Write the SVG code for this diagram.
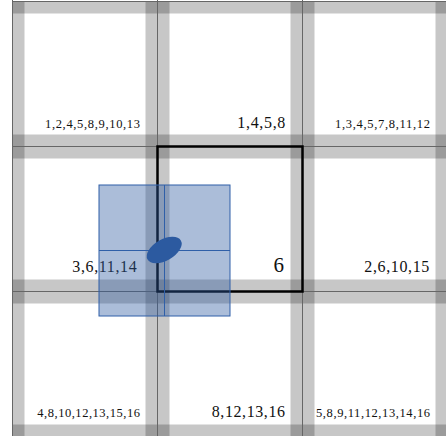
<svg xmlns="http://www.w3.org/2000/svg" xmlns:xlink="http://www.w3.org/1999/xlink" width="446" height="436" viewBox="0 0 446 436">
  <style>
    .band { fill: #000000; fill-opacity: 0.22; }
    .grid { stroke: #666666; stroke-width: 1; fill: none; }
    .lbl { font-family: "Liberation Serif", "DejaVu Serif", serif; fill: #111111; }
    .s { font-size: 12.5px; }
    .m { font-size: 16px; }
    .l { font-size: 21px; }
    .current { fill: none; stroke: #000000; stroke-width: 2.5; }
    .query { fill: #2c5aa0; fill-opacity: 0.4; stroke: #2f5fa8; stroke-width: 1; }
    .qline { stroke: #2f5fa8; stroke-width: 1; fill: none; }
    .obj { fill: #2c5aa0; }
  </style>
  <defs>
    <g id="bands">
      <rect class="band" x="0" y="0" width="145" height="12"/>
      <rect class="band" x="0" y="133" width="145" height="12"/>
      <rect class="band" x="0" y="0" width="12" height="145"/>
      <rect class="band" x="133" y="0" width="12" height="145"/>
    </g>
  </defs>
  <rect x="0" y="0" width="446" height="436" fill="#ffffff"/>

  <g id="cell-0-0"><use xlink:href="#bands" x="12.5" y="1.5"/></g>
  <g id="cell-1-0"><use xlink:href="#bands" x="157.5" y="1.5"/></g>
  <g id="cell-2-0"><use xlink:href="#bands" x="302.5" y="1.5"/></g>
  <g id="cell-0-1"><use xlink:href="#bands" x="12.5" y="146.5"/></g>
  <g id="cell-1-1"><use xlink:href="#bands" x="157.5" y="146.5"/></g>
  <g id="cell-2-1"><use xlink:href="#bands" x="302.5" y="146.5"/></g>
  <g id="cell-0-2"><use xlink:href="#bands" x="12.5" y="291.5"/></g>
  <g id="cell-1-2"><use xlink:href="#bands" x="157.5" y="291.5"/></g>
  <g id="cell-2-2"><use xlink:href="#bands" x="302.5" y="291.5"/></g>

  <g id="grid-lines">
    <line class="grid" x1="12.5" y1="0" x2="12.5" y2="436"/>
    <line class="grid" x1="157.5" y1="0" x2="157.5" y2="436"/>
    <line class="grid" x1="302.5" y1="0" x2="302.5" y2="436"/>
    <line class="grid" x1="12" y1="1.5" x2="446" y2="1.5"/>
    <line class="grid" x1="12" y1="146.5" x2="446" y2="146.5"/>
    <line class="grid" x1="12" y1="291.5" x2="446" y2="291.5"/>
  </g>

  <g id="labels">
    <text class="lbl s" x="45" y="128" textLength="95" lengthAdjust="spacing">1,2,4,5,8,9,10,13</text>
    <text class="lbl m" x="237.3" y="128.3" textLength="48" lengthAdjust="spacing">1,4,5,8</text>
    <text class="lbl s" x="335" y="128" textLength="95" lengthAdjust="spacing">1,3,4,5,7,8,11,12</text>
    <text class="lbl m" x="72.3" y="271.7" textLength="64.4" lengthAdjust="spacing">3,6,11,14</text>
    <text class="lbl l" x="273.5" y="271.7">6</text>
    <text class="lbl m" x="364.3" y="271.7" textLength="65" lengthAdjust="spacing">2,6,10,15</text>
    <text class="lbl s" x="37.3" y="416.7" textLength="102.7" lengthAdjust="spacing">4,8,10,12,13,15,16</text>
    <text class="lbl m" x="211.7" y="416.7" textLength="73.3" lengthAdjust="spacing">8,12,13,16</text>
    <text class="lbl s" x="316" y="416.7" textLength="114" lengthAdjust="spacing">5,8,9,11,12,13,14,16</text>
  </g>

  <g id="current-cell">
    <rect class="current" x="157.5" y="146.5" width="145" height="145"/>
  </g>

  <g id="query-box">
    <rect class="query" x="99" y="185" width="131" height="131"/>
    <line class="qline" x1="164.5" y1="185" x2="164.5" y2="316"/>
    <line class="qline" x1="99" y1="250.5" x2="230" y2="250.5"/>
  </g>

  <g id="object">
    <ellipse class="obj" cx="164.2" cy="250" rx="19.2" ry="10.6" transform="rotate(-30 164.2 250)"/>
  </g>
</svg>
